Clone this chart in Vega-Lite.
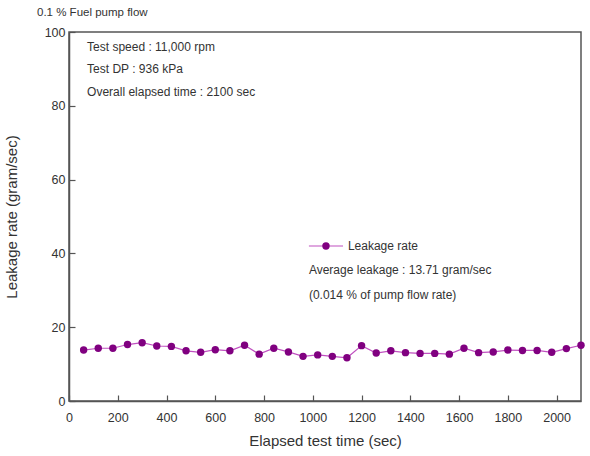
{
  "$schema": "https://vega.github.io/schema/vega-lite/v6.json",
  "width": 512,
  "height": 369,
  "autosize": {"type": "none"},
  "padding": {"left": 69, "top": 32, "right": 9, "bottom": 55},
  "background": "white",
  "config": {
    "view": {"stroke": "#555", "strokeWidth": 1.5},
    "font": "Liberation Sans",
    "axis": {
      "grid": false,
      "domainColor": "#555",
      "domainWidth": 1.5,
      "tickColor": "#555",
      "tickWidth": 1.2,
      "labelFont": "Liberation Sans",
      "labelFontSize": 12.5,
      "labelColor": "#333",
      "titleFont": "Liberation Sans",
      "titleFontSize": 15,
      "titleFontWeight": "normal",
      "titleColor": "#333"
    }
  },
  "title": {
    "text": "0.1 % Fuel pump flow",
    "anchor": "start",
    "frame": "group",
    "offset": 8,
    "dx": -32,
    "fontSize": 11.5,
    "fontWeight": "normal",
    "color": "#333",
    "font": "Liberation Sans"
  },
  "datasets": {
    "leak": [
      {"t": 60, "rate": 13.8}, {"t": 120, "rate": 14.3}, {"t": 180, "rate": 14.3},
      {"t": 240, "rate": 15.3}, {"t": 300, "rate": 15.8}, {"t": 360, "rate": 14.9},
      {"t": 420, "rate": 14.8}, {"t": 480, "rate": 13.6}, {"t": 540, "rate": 13.2},
      {"t": 600, "rate": 13.9}, {"t": 660, "rate": 13.6}, {"t": 720, "rate": 15.1},
      {"t": 780, "rate": 12.7}, {"t": 840, "rate": 14.3}, {"t": 900, "rate": 13.3},
      {"t": 960, "rate": 12.1}, {"t": 1020, "rate": 12.5}, {"t": 1080, "rate": 12.1},
      {"t": 1140, "rate": 11.7}, {"t": 1200, "rate": 15.0}, {"t": 1260, "rate": 13.0},
      {"t": 1320, "rate": 13.6}, {"t": 1380, "rate": 13.1}, {"t": 1440, "rate": 12.9},
      {"t": 1500, "rate": 12.9}, {"t": 1560, "rate": 12.7}, {"t": 1620, "rate": 14.3},
      {"t": 1680, "rate": 13.1}, {"t": 1740, "rate": 13.3}, {"t": 1800, "rate": 13.8},
      {"t": 1860, "rate": 13.7}, {"t": 1920, "rate": 13.7}, {"t": 1980, "rate": 13.2},
      {"t": 2040, "rate": 14.2}, {"t": 2100, "rate": 15.1}
    ],
    "notes": [
      {"x": 74, "y": 95.9, "label": "Test speed : 11,000 rpm"},
      {"x": 74, "y": 89.9, "label": "Test DP : 936 kPa"},
      {"x": 74, "y": 83.7, "label": "Overall elapsed time : 2100 sec"},
      {"x": 1144, "y": 42.0, "label": "Leakage rate"},
      {"x": 984, "y": 35.5, "label": "Average leakage : 13.71 gram/sec"},
      {"x": 984, "y": 28.7, "label": "(0.014 % of pump flow rate)"}
    ],
    "legline": [
      {"x": 984, "x2": 1124, "y": 42.0, "mx": 1054}
    ]
  },
  "layer": [
    {
      "data": {"name": "leak"},
      "mark": {"type": "line", "color": "#c050c0", "strokeWidth": 1.2},
      "encoding": {
        "x": {
          "field": "t", "type": "quantitative",
          "scale": {"domain": [0, 2100], "nice": false},
          "axis": {
            "title": "Elapsed test time (sec)",
            "values": [0,100,200,300,400,500,600,700,800,900,1000,1100,1200,1300,1400,1500,1600,1700,1800,1900,2000],
            "labelExpr": "datum.value % 200 === 0 ? datum.label : ''",
            "format": "d",
            "tickSize": {"condition": {"test": "datum.value % 200 === 0", "value": -6}, "value": -3},
            "labelPadding": 16,
            "labelFlush": false,
            "labelOverlap": false,
            "titlePadding": 10
          }
        },
        "y": {
          "field": "rate", "type": "quantitative",
          "scale": {"domain": [0, 100], "nice": false},
          "axis": {
            "title": "Leakage rate (gram/sec)",
            "values": [0,10,20,30,40,50,60,70,80,90,100],
            "labelExpr": "datum.value % 20 === 0 ? datum.label : ''",
            "tickSize": {"condition": {"test": "datum.value % 20 === 0", "value": -6}, "value": -3},
            "labelPadding": 10,
            "labelFlush": false,
            "labelOverlap": false,
            "titlePadding": 25
          }
        }
      }
    },
    {
      "data": {"name": "leak"},
      "mark": {"type": "point", "filled": true, "color": "#800080", "size": 55, "opacity": 1},
      "encoding": {
        "x": {"field": "t", "type": "quantitative"},
        "y": {"field": "rate", "type": "quantitative"}
      }
    },
    {
      "data": {"name": "legline"},
      "mark": {"type": "rule", "color": "#c050c0", "strokeWidth": 1.2},
      "encoding": {
        "x": {"field": "x", "type": "quantitative"},
        "x2": {"field": "x2"},
        "y": {"field": "y", "type": "quantitative"}
      }
    },
    {
      "data": {"name": "legline"},
      "mark": {"type": "point", "filled": true, "color": "#800080", "size": 55, "opacity": 1},
      "encoding": {
        "x": {"field": "mx", "type": "quantitative"},
        "y": {"field": "y", "type": "quantitative"}
      }
    },
    {
      "data": {"name": "notes"},
      "mark": {"type": "text", "align": "left", "baseline": "middle", "fontSize": 12, "color": "#333", "font": "Liberation Sans"},
      "encoding": {
        "x": {"field": "x", "type": "quantitative"},
        "y": {"field": "y", "type": "quantitative"},
        "text": {"field": "label"}
      }
    }
  ]
}
